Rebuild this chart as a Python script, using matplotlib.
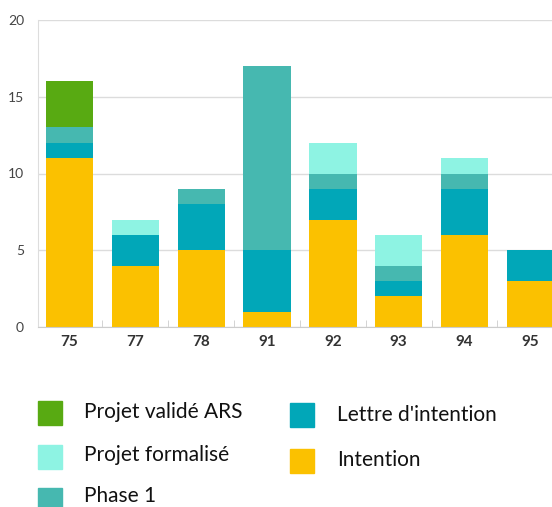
import matplotlib.pyplot as plt
from matplotlib.patches import Rectangle

plt.rcParams['font.family'] = ['Lato', 'DejaVu Sans']

departements = ['75', '77', '78', '91', '92', '93', '94', '95']

# stacked from bottom to top
intention = [11, 4, 5, 1, 7, 2, 6, 3]
lettre = [1, 2, 3, 4, 2, 1, 3, 2]
phase1 = [1, 0, 1, 12, 1, 1, 1, 0]
formalise = [0, 1, 0, 0, 2, 2, 1, 0]
valide = [3, 0, 0, 0, 0, 0, 0, 0]

series = [
    ('Intention', intention, '#FBC100'),
    ("Lettre d'intention", lettre, '#01A7B8'),
    ('Phase 1', phase1, '#46B8B0'),
    ('Projet formalisé', formalise, '#8EF3E3'),
    ('Projet validé ARS', valide, '#58AA12'),
]

W, H = 552, 507
fig = plt.figure(figsize=(W / 100, H / 100), dpi=100)
ax = fig.add_axes([38 / W, 1 - 327 / H, 1 - 38 / W, 307 / H])

x = range(len(departements))
bottom = [0] * len(departements)
for name, vals, col in series:
    ax.bar(x, vals, width=0.72, bottom=bottom, color=col, zorder=2)
    bottom = [b + v for b, v in zip(bottom, vals)]

ax.set_ylim(0, 20)
ax.set_xlim(-0.48, 7.33)
ax.set_yticks([0, 5, 10, 15, 20])
ax.yaxis.grid(True, color='#dcdcdc', linewidth=1, zorder=0)
ax.set_xticks(list(x))
ax.set_xticklabels(departements, fontsize=11, fontweight='bold', color='#333333')
ax.set_xticks([i + 0.5 for i in range(len(departements) - 1)], minor=True)
ax.tick_params(axis='x', which='major', length=0, pad=6)
ax.tick_params(axis='x', which='minor', length=5, color='#cccccc', direction='in')
ax.tick_params(axis='y', length=0, labelsize=10, labelcolor='#444444', pad=10)
for s in ['top', 'right']:
    ax.spines[s].set_visible(False)
ax.spines['left'].set_color('#dddddd')
ax.spines['bottom'].set_color('#cccccc')

# legend drawn by hand: square x, square top y, text x, text baseline y (pixels)
legend_items = [
    (series[4], 38, 401, 84, 418),
    (series[3], 38, 445, 84, 461),
    (series[2], 38, 488, 84, 502),
    (series[1], 290, 403, 337, 421),
    (series[0], 290, 449, 337, 466),
]
for (name, _, col), sx, sy, tx, ty in legend_items:
    fig.patches.append(Rectangle((sx / W, 1 - (sy + 24) / H), 24 / W, 24 / H,
                                 color=col, transform=fig.transFigure))
    fig.text(tx / W, 1 - ty / H, name, fontsize=15, color='#111111',
             va='baseline', ha='left')

fig.savefig('out.png', dpi=100)
